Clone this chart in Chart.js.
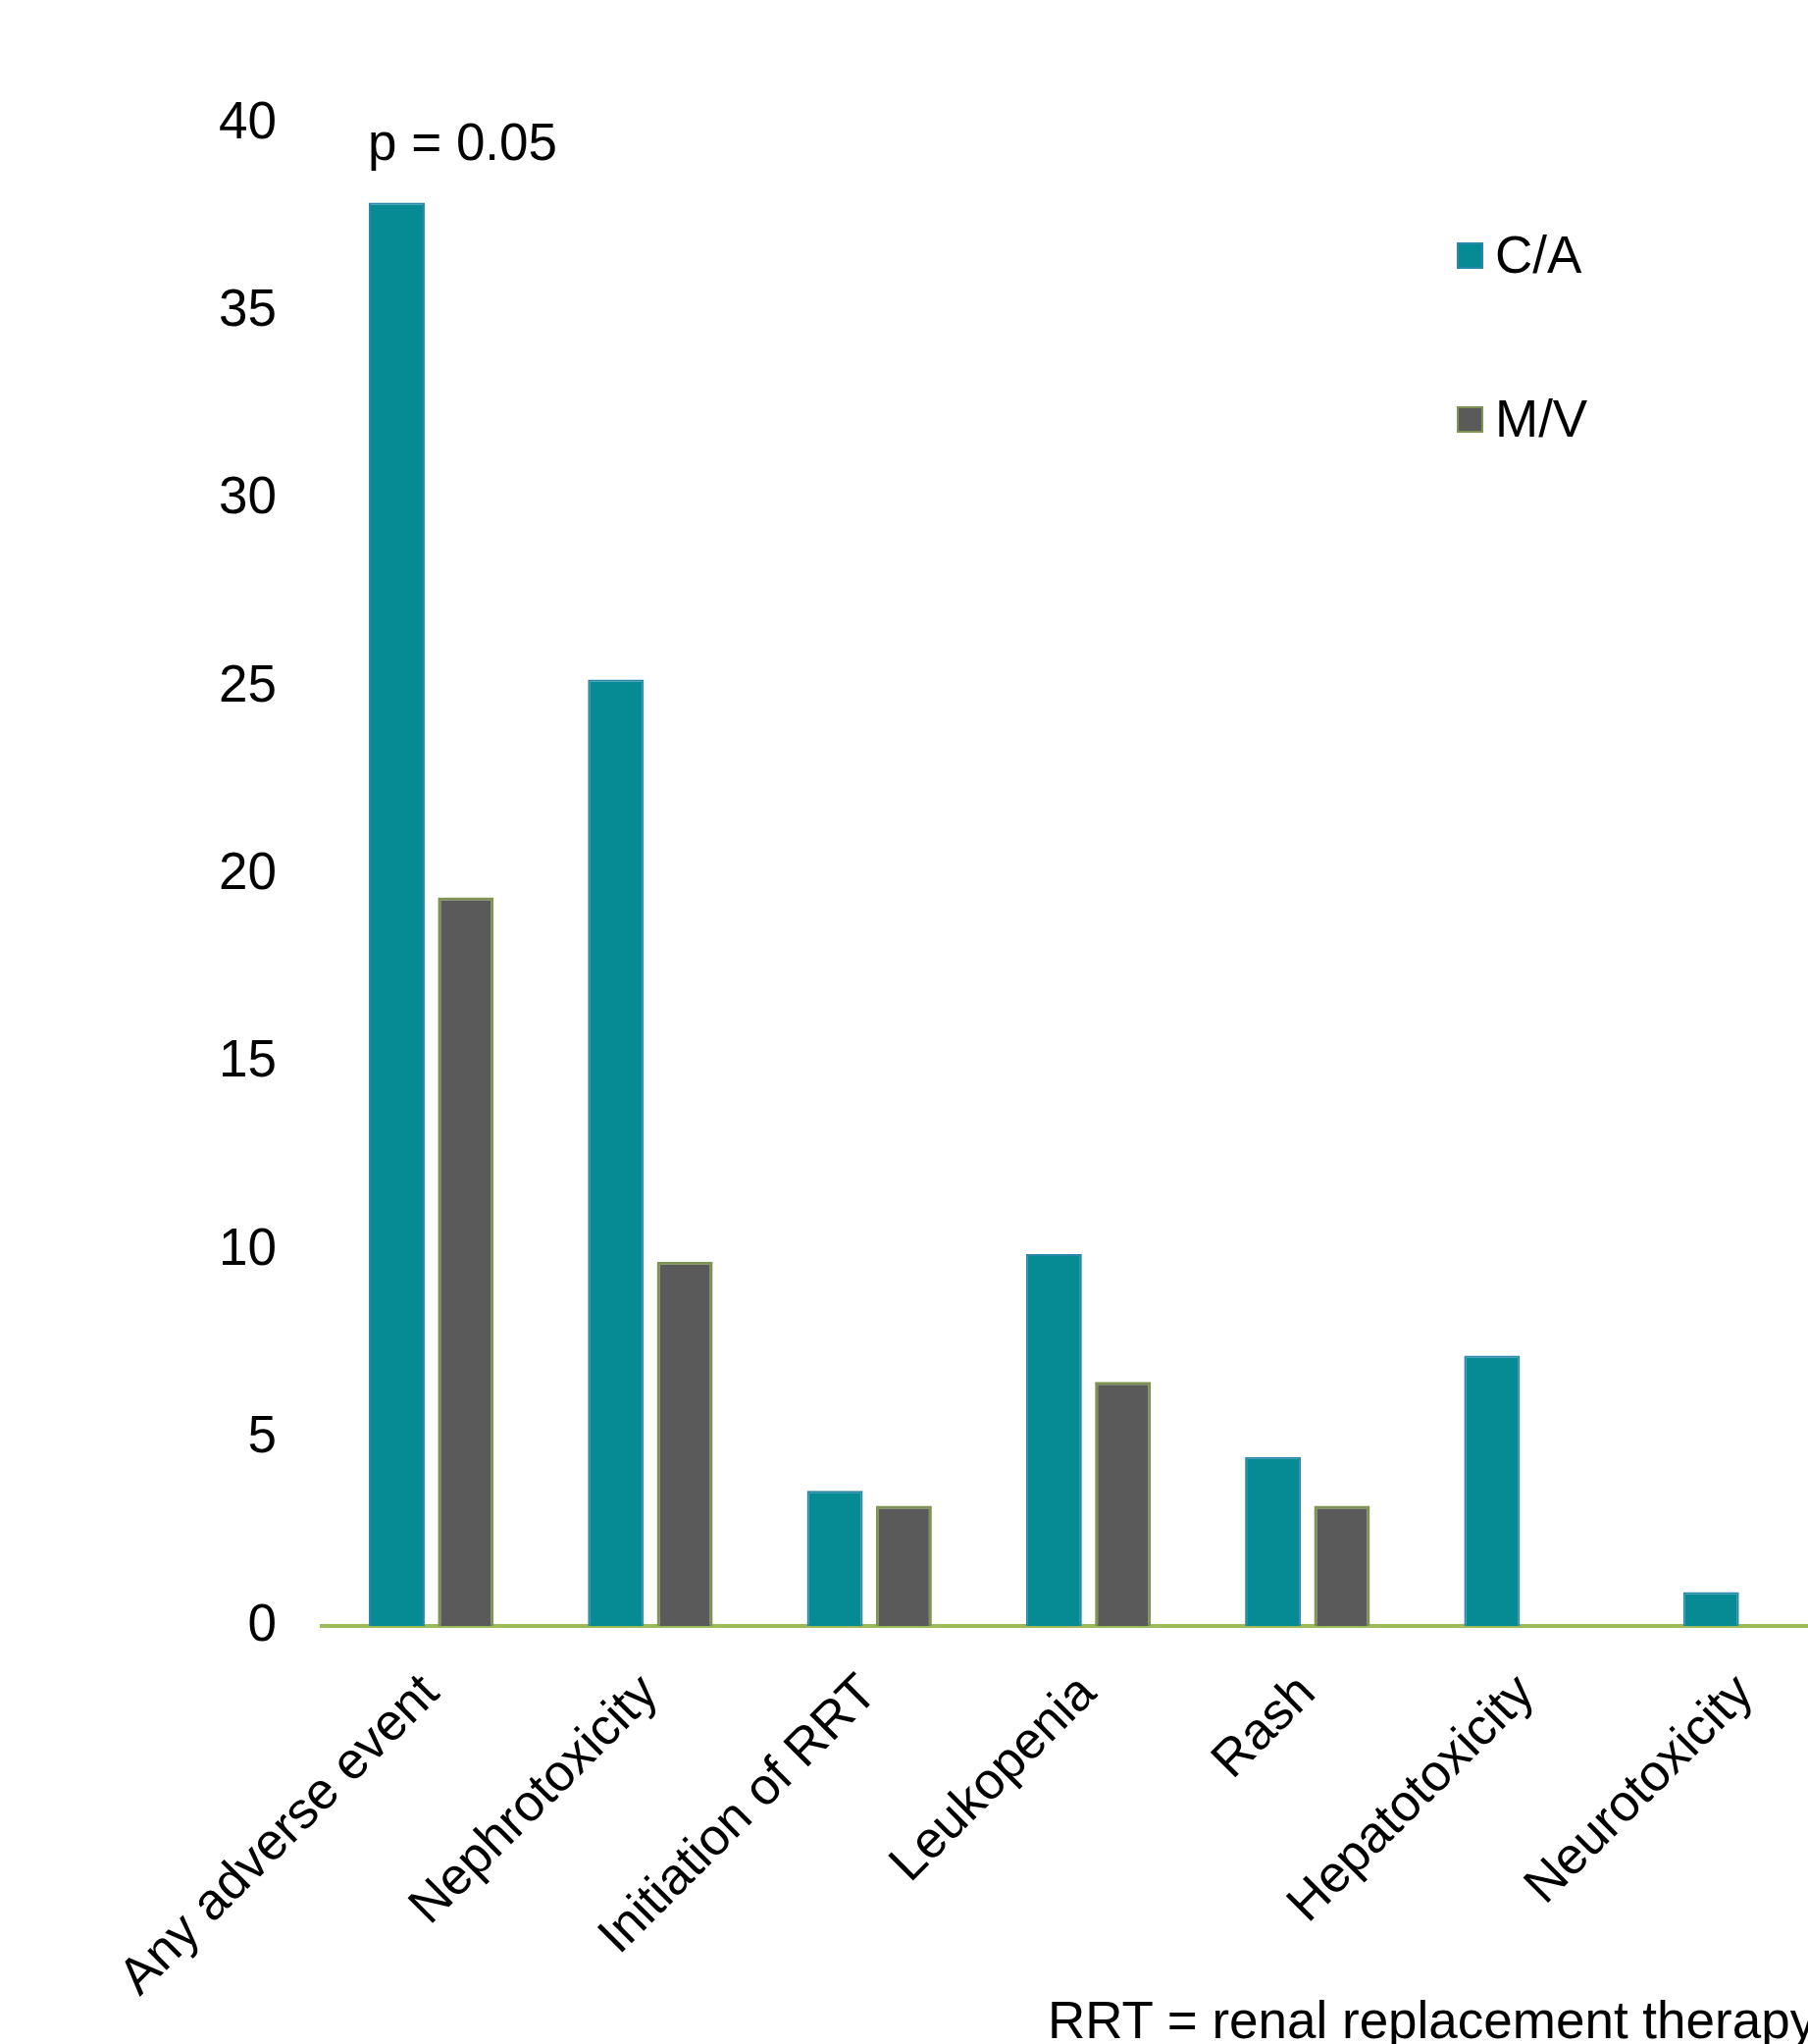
<!DOCTYPE html>
<html lang="en">
<head>
    <meta charset="UTF-8">
    <title>Adverse events: C/A vs M/V</title>
    <script src="https://cdn.jsdelivr.net/npm/chart.js"></script>
    <style>
        body {
            margin: 0;
            background: #fff;
            width: 1843px;
            height: 2083px;
            overflow: hidden;
            position: relative;
            font-family: 'Liberation Sans', Arial, sans-serif;
            color: #000;
        }

        #chart-box {
            position: absolute;
            left: 0;
            top: 0;
        }

        .note {
            position: absolute;
            font-size: 53px;
            line-height: 53px;
            white-space: nowrap;
        }

        .legend-item {
            position: absolute;
            left: 1485px;
            font-size: 53px;
            line-height: 53px;
            white-space: nowrap;
        }

        .legend-item .swatch {
            position: absolute;
            left: 0;
            width: 23px;
            height: 23px;
        }

        .legend-item .text {
            position: absolute;
            left: 39px;
            top: 0;
        }
    </style>
</head>
<body>
    <div id="chart-box">
        <canvas id="aeChart" width="1891" height="2083"></canvas>
    </div>

    <div class="note" id="pval" style="left: 375px; top: 118px;">p = 0.05</div>
    <div class="note" id="footnote" style="left: 1068px; top: 2032px;">RRT = renal replacement therapy</div>
    <div id="legend"></div>

    <script>
        // categories and values (% of patients)
        const categories = ['Any adverse event', 'Nephrotoxicity', 'Initiation of RRT', 'Leukopenia', 'Rash', 'Hepatotoxicity', 'Neurotoxicity'];
        const seriesNames = ['C/A', 'M/V'];
        const caValues = [37.9, 25.2, 3.6, 9.9, 4.5, 7.2, 0.9];
        const mvValues = [19.4, 9.7, 3.2, 6.5, 3.2, 0, 0];
        const yTicks = [0, 5, 10, 15, 20, 25, 30, 35, 40];

        const caFill = '#068a94';
        const caEdge = '#2a86ab';
        const mvFill = '#5a5a5a';
        const mvEdge = '#7f9453';
        const axisGreen = '#9bbb59';
        const fontFamily = "'Liberation Sans', Arial, sans-serif";

        const datasets = [
            {
                label: seriesNames[0],
                data: caValues,
                backgroundColor: caFill,
                borderColor: caEdge,
                borderWidth: 2,
            },
            {
                label: seriesNames[1],
                data: mvValues,
                backgroundColor: mvFill,
                borderColor: mvEdge,
                borderWidth: 3,
            }
        ];

        const ctx = document.getElementById('aeChart').getContext('2d');
        const chart = new Chart(ctx, {
            type: 'bar',
            data: {
                labels: categories,
                datasets: datasets,
            },
            options: {
                responsive: false,
                animation: false,
                devicePixelRatio: 1,
                categoryPercentage: 0.63,
                barPercentage: 0.81,
                layout: {
                    padding: { top: 126, left: 0, right: 0, bottom: 0 }
                },
                plugins: {
                    legend: { display: false },
                    tooltip: { enabled: false },
                },
                scales: {
                    x: {
                        grid: { display: false, drawTicks: false },
                        border: { display: true, color: axisGreen, width: 4 },
                        ticks: {
                            autoSkip: false,
                            minRotation: 45,
                            maxRotation: 45,
                            padding: 38,
                            color: '#000',
                            font: { family: fontFamily, size: 52.5 },
                        },
                        afterFit: (scale) => {
                            scale.height = 2083 - 1657;
                            scale.paddingLeft = 0;
                            scale.paddingRight = 0;
                        },
                    },
                    y: {
                        min: 0,
                        max: 40,
                        grid: { display: false, drawTicks: false },
                        border: { display: false },
                        afterBuildTicks: (scale) => {
                            scale.ticks = yTicks.map(v => ({ value: v }));
                        },
                        ticks: {
                            padding: 46,
                            color: '#000',
                            font: { family: fontFamily, size: 53 },
                        },
                        afterFit: (scale) => {
                            scale.width = 328;
                            scale.paddingTop = 0;
                            scale.paddingBottom = 0;
                        },
                    },
                },
            },
        });

        // legend, stacked vertically with wide spacing like the original
        const legendTops = [233, 400];
        const legendBox = document.getElementById('legend');
        datasets.forEach((ds, i) => {
            const item = document.createElement('div');
            item.className = 'legend-item';
            item.style.top = legendTops[i] + 'px';
            const sw = document.createElement('span');
            sw.className = 'swatch';
            sw.style.top = '14px';
            sw.style.background = ds.backgroundColor;
            sw.style.border = '2px solid ' + ds.borderColor;
            const tx = document.createElement('span');
            tx.className = 'text';
            tx.textContent = ds.label;
            item.appendChild(sw);
            item.appendChild(tx);
            legendBox.appendChild(item);
        });
    </script>
</body>
</html>
